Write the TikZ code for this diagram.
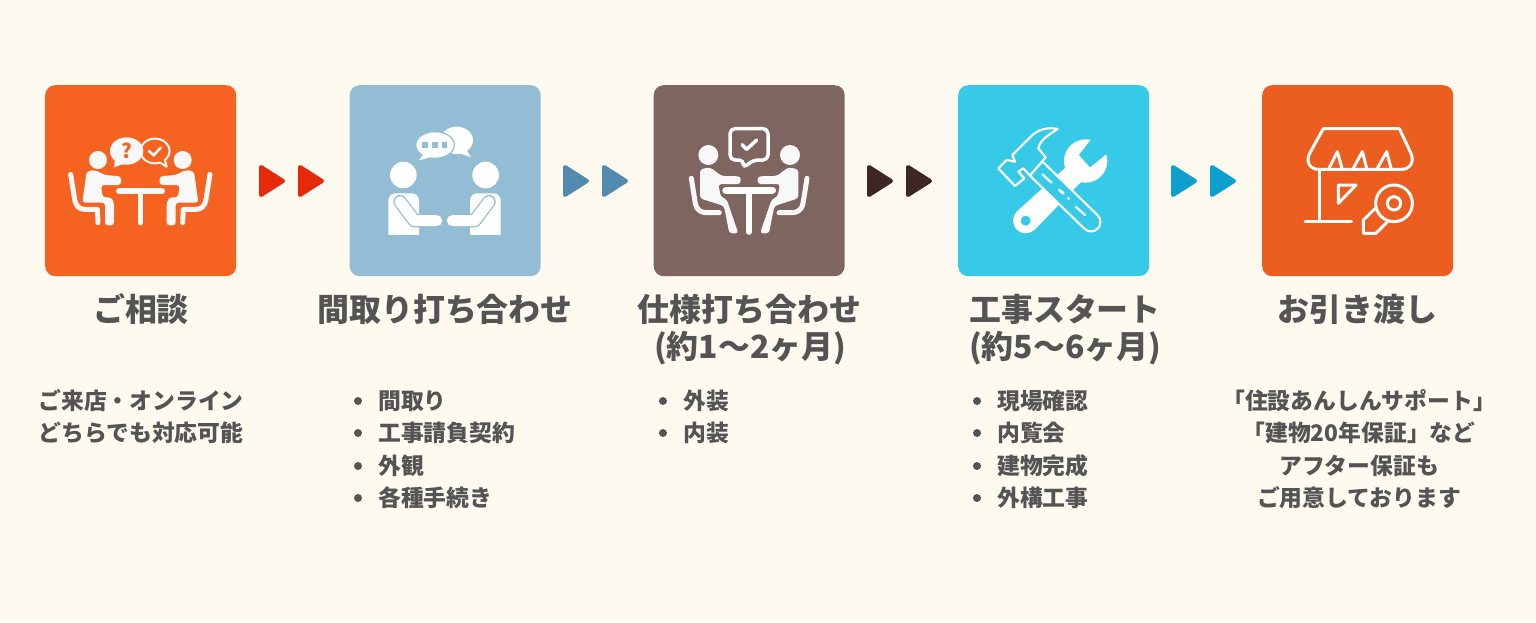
\documentclass[tikz,border=0pt]{standalone}
\usepackage{fontspec}
\newfontfamily\cjk{Noto Sans CJK JP}
\definecolor{bgc}{HTML}{FFFAEF}
\definecolor{txt}{HTML}{545454}
\definecolor{icw}{HTML}{F8F8F8}
\definecolor{boxa}{HTML}{F6621F}
\definecolor{boxb}{HTML}{93BDD4}
\definecolor{boxc}{HTML}{7E655F}
\definecolor{boxd}{HTML}{36C9E8}
\definecolor{boxe}{HTML}{EC5E1F}
\definecolor{arra}{HTML}{E6290A}
\definecolor{arrb}{HTML}{538AB0}
\definecolor{arrc}{HTML}{3E2723}
\definecolor{arrd}{HTML}{0F9FCF}
\tikzset{
  card/.style={fill=#1,rounded corners=10pt,draw=none,minimum size=191pt,inner sep=0pt,anchor=north west},
  tip/.style={fill=#1,draw=#1,line width=4pt,line join=round},
  titletext/.style={text=txt,font=\cjk\bfseries\fontsize{31.9}{37}\selectfont,align=center,inner sep=0pt,anchor=base},
  bodytext/.style={text=txt,font=\cjk\bfseries\fontsize{22.8}{32.3}\selectfont,inner sep=0pt,anchor=base west,align=left},
  bodymid/.style={text=txt,font=\cjk\bfseries\fontsize{22.8}{32.3}\selectfont,inner sep=0pt,anchor=base,align=center},
  dotb/.style={fill=txt,draw=none},
  zoomed/.style={x=0.33333pt,y=-0.33333pt},
  iline/.style={draw=#1,line width=5pt,line cap=round,line join=round}
}
\newcommand{\twotips}[2]{%
  \path[tip=#2] (#1+2,167) -- (#1+24,181) -- (#1+2,195) -- cycle;
  \path[tip=#2] (#1+41,167) -- (#1+63,181) -- (#1+41,195) -- cycle;
}
\newcommand{\persona}{%
  \fill[icw] (174,240) circle (27);
  \fill[icw,rounded corners=3pt] (140,274) -- (165,270) -- (195,285) -- (243,289) -- (243,315) -- (183,315) -- (188,352) -- (214,352) -- (222,368) -- (222,436) -- (195,436) -- (195,368) -- (127,368) -- cycle;
  \draw[iline=icw] (92,283) -- (104,358) .. controls (108,380) and (118,388) .. (135,388) -- (172,388) -- (174,428);
}
\newcommand{\personc}{%
  \fill[icw] (175,225) circle (30);
  \fill[icw,rounded corners=3pt] (150,268) -- (180,262) -- (215,288) -- (272,289) -- (272,312) -- (205,312) -- (212,350) -- (230,358) -- (265,460) -- (238,460) -- (222,378) -- (150,355) -- cycle;
  \draw[iline=icw] (124,295) -- (136,370) .. controls (140,392) and (155,398) .. (170,398) -- (208,398);
}
\newcommand{\personb}{%
  \fill[white] (175,285) circle (40);
  \fill[white,rounded corners=7pt] (130,500) -- (130,340) -- (222,340) -- (222,500) -- cycle;
  \fill[boxb] (125,465) rectangle (227,500);
  \draw[boxb,line width=13.5pt,line cap=round,line join=round] (165,365) -- (208,422) -- (275,422);
  \draw[white,line width=11pt,line cap=round,line join=round] (165,365) -- (208,422) -- (275,422);
}
\begin{document}
\begin{tikzpicture}[x=1pt,y=-1pt]
\useasboundingbox (0,0) rectangle (1536,622);
\fill[bgc] (0,0) rectangle (1536,622);

\node[card=boxa] (c1) at (45,85) {};
\node[card=boxb] (c2) at (349.5,85) {};
\node[card=boxc] (c3) at (653.5,85) {};
\node[card=boxd] (c4) at (958,85) {};
\node[card=boxe] (c5) at (1262,85) {};

\twotips{259}{arra}
\twotips{563}{arrb}
\twotips{867}{arrc}
\twotips{1171}{arrd}

% icon 1
\begin{scope}[shift={(40,80)},zoomed]
  \persona
  \begin{scope}[shift={(602,0)},xscale=-1]\persona\end{scope}
  \draw[icw,line width=6pt,line cap=round] (237,334) -- (366,334);
  \draw[icw,line width=5.5pt,line cap=round] (301,334) -- (301,428);
  \draw[fill=boxa,draw=icw,line width=2pt,line join=round] (345,213) ellipse (44 and 37);
  \draw[fill=boxa,draw=icw,line width=2pt,line join=round] (358,246) -- (380,260) -- (374,238);
  \fill[boxa] (352,240) -- (372,232) -- (368,248) -- cycle;
  \draw[icw,line width=2.6pt,line cap=round,line join=round] (327,213) -- (341,226) -- (362,203);
  \fill[icw] (260,213) ellipse (50 and 41);
  \fill[icw,line join=round] (225,240) -- (222,262) -- (256,250) -- cycle;
  \node[text=boxa,font=\cjk\bfseries\fontsize{20}{20}\selectfont,inner sep=0pt] (q) at (262,213) {?};
\end{scope}

% icon 2
\begin{scope}[shift={(345,80)},zoomed]
  \personb
  \begin{scope}[shift={(597,0)},xscale=-1]\personb\end{scope}
  \fill[white] (335,181) ellipse (49 and 41);
  \fill[white] (330,215) -- (378,232) -- (362,205) -- cycle;
  \draw[fill=white,draw=boxb,line width=1.2pt] (270,195) ellipse (58 and 40);
  \fill[white] (235,222) -- (222,241) -- (262,230) -- cycle;
  \fill[boxb] (232,187) rectangle (248,204);
  \fill[boxb] (262,187) rectangle (278,204);
  \fill[boxb] (291,187) rectangle (307,204);
\end{scope}

% icon 3
\begin{scope}[shift={(650,80)},zoomed]
  \personc
  \begin{scope}[shift={(595,0)},xscale=-1]\personc\end{scope}
  \draw[white,line width=7.5pt,line cap=round] (228,331) -- (367,331);
  \draw[boxc,line width=1pt] (222,319) -- (372,319);
  \draw[white,line width=5.5pt,line cap=round] (297,331) -- (297,456);
  \draw[draw=white,line width=3.5pt,line join=round,rounded corners=5pt] (240,146) -- (354,146) -- (354,240) -- (310,240) -- (279,265) -- (282,240) -- (240,240) -- cycle;
  \draw[white,line width=3.5pt,line cap=round,line join=round] (276,194) -- (290,208) -- (320,180);
\end{scope}

% icon 4
\begin{scope}[shift={(955,80)},zoomed]
  \fill[white] (212,422) circle (38);
  \fill[white] (184,396) -- (332,262) -- (378,306) -- (240,448) -- cycle;
  \fill[white] (392,243) circle (65);
  \fill[boxd] (372,225) -- (405,262) -- (475,205) -- (430,150) -- cycle;
  \fill[boxd] (212,422) circle (15);
  \draw[white,line width=21pt,line cap=round] (248,270) -- (408,426);
  \draw[boxd,line width=16.5pt,line cap=round] (248,270) -- (408,426);
  \draw[fill=boxd,draw=white,line width=2.2pt,line join=round] (308,147) .. controls (275,140) and (245,150) .. (225,172) -- (172,225) -- (180,245) -- (155,240) -- (130,265) -- (180,318) -- (208,295) -- (190,275) -- (205,265) -- (225,287) -- (272,232) -- (250,205) .. controls (255,180) and (280,165) .. (308,147) -- cycle;
  \draw[white,line width=2.2pt,line cap=round] (262,283) -- (290,308);
  \draw[white,line width=2.8pt,line cap=round] (313,330) -- (325,340);
  \fill[white] (340,355) circle (5);
  \draw[white,line width=2.2pt,line cap=round] (362,380) -- (390,405);
\end{scope}

% icon 5
\begin{scope}[shift={(1260,80)},zoomed,white,line width=3pt,line cap=round,line join=round]
  \draw (190,146) -- (418,146) -- (452,218) .. controls (465,245) and (450,268) .. (425,268) -- (175,268) .. controls (150,268) and (135,245) .. (150,218) -- cycle;
  \draw (207,265) -- (232,215) -- (246,265);
  \draw (280,265) -- (307,215) -- (320,265);
  \draw (352,265) -- (380,215) -- (393,265);
  \draw (178,268) -- (178,425);
  \draw (135,425) -- (275,425);
  \draw (235,315) -- (288,315) -- (235,370) -- cycle;
  \draw (402,370) circle (55);
  \draw (402,370) circle (20);
  \draw (346,385) -- (310,420) -- (310,460) -- (348,460) -- (382,426);
\end{scope}

% titles
\node[titletext] (t1) at (141,321) {ご相談};
\node[titletext] (t2) at (445,321) {間取り打ち合わせ};
\node[titletext] (t3) at (749.5,321) {仕様打ち合わせ};
\node[titletext] (t3b) at (750,358) {(約1〜2ヶ月)};
\node[titletext] (t4) at (1065,321) {工事スタート};
\node[titletext] (t4b) at (1065,358) {(約5〜6ヶ月)};
\node[titletext] (t5) at (1357.5,321) {お引き渡し};

% body
\node[bodymid] (b1a) at (141,409) {ご来店・オンライン};
\node[bodymid] (b1b) at (141,441) {どちらでも対応可能};

\node[bodytext] (b2a) at (378,409) {間取り};
\node[bodytext] (b2b) at (378,441) {工事請負契約};
\node[bodytext] (b2c) at (378,474) {外観};
\node[bodytext] (b2d) at (378,506) {各種手続き};
\foreach \yy in {401,433,466,498} \fill[dotb] (358,\yy) circle (4);

\node[bodytext] (b3a) at (683,409) {外装};
\node[bodytext] (b3b) at (683,441) {内装};
\foreach \yy in {401,433} \fill[dotb] (663,\yy) circle (4);

\node[bodytext] (b4a) at (997,409) {現場確認};
\node[bodytext] (b4b) at (997,441) {内覧会};
\node[bodytext] (b4c) at (997,474) {建物完成};
\node[bodytext] (b4d) at (997,506) {外構工事};
\foreach \yy in {401,433,466,498} \fill[dotb] (977,\yy) circle (4);

\node[bodymid] (b5a) at (1359,409) {「住設あんしんサポート」};
\node[bodymid] (b5b) at (1359,441) {「建物20年保証」など};
\node[bodymid] (b5c) at (1359,474) {アフター保証も};
\node[bodymid] (b5d) at (1359,506) {ご用意しております};
\end{tikzpicture}
\end{document}
